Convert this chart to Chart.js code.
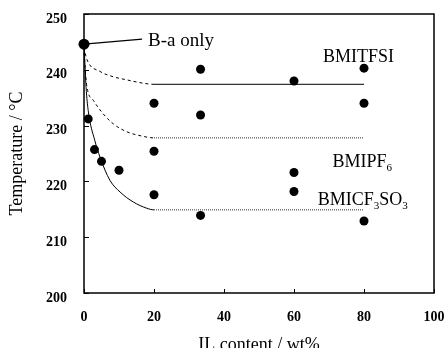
<!DOCTYPE html>
<html>
<head>
<meta charset="utf-8">
<script src="https://cdn.jsdelivr.net/npm/chart.js@4.4.1/dist/chart.umd.min.js"></script>
<style>
  html, body { margin: 0; padding: 0; background: #fff; }
  #wrap { width: 444px; height: 348px; }
</style>
</head>
<body>
<div id="wrap"><canvas id="c" width="444" height="348"></canvas></div>
<script>
// ---- Data ----
const xTicks = [0, 20, 40, 60, 80, 100];
const yTicks = [200, 210, 220, 230, 240, 250];

// B-a only (no ionic liquid)
const baOnlyX = [0];
const baOnlyY = [244.6];

// Measured points
const tfsiX = [20, 33.3, 60, 80];
const tfsiY = [234.0, 240.1, 238.0, 240.3];
const pf6X = [20, 33.3, 60, 80];
const pf6Y = [225.4, 231.9, 221.6, 234.0];
const cf3X = [1.2, 3.0, 5.0, 10.0, 20, 33.3, 60, 80];
const cf3Y = [231.2, 225.7, 223.6, 222.0, 217.6, 213.9, 218.2, 212.9];

// Guide curves
const tfsiCurveX = [0, 0.8, 4.6, 8.4, 12.2, 16, 20, 80];
const tfsiCurveY = [244.0, 241.9, 239.7, 238.75, 238.2, 237.7, 237.4, 237.4];
const pf6CurveX = [0, 0.8, 2.7, 5.5, 8.4, 12.2, 16, 20, 80];
const pf6CurveY = [243.0, 237.1, 234.5, 232.1, 230.3, 228.9, 228.2, 227.8, 227.8];
const cf3CurveX = [0, 0.6, 1.2, 3.1, 4.6, 7.4, 10.3, 14.1, 17.9, 20, 80];
const cf3CurveY = [244.6, 236.8, 232.7, 227.3, 224.3, 220.2, 218.1, 216.3, 215.2, 214.9, 214.9];

// Text labels (anchored in data units)
const seriesLabels = [
  { text: 'BMITFSI', sub: '', after: '', x: 68.3, y: 242.2 },
  { text: 'BMIPF', sub: '6', after: '', x: 71.0, y: 223.4 },
  { text: 'BMICF', sub: '3', after: 'SO', sub2: '3', x: 66.8, y: 216.6 }
];
const baLabel = { text: 'B-a only', x: 18.3, y: 245.2, lineToX: 16.6, lineToY: 245.5 };

// ---- Helpers ----
const zip = (xs, ys) => xs.map((x, i) => ({ x, y: ys[i] }));
const SERIF = '"Liberation Serif", "Times New Roman", serif';

const curveStyle = (earlyDash, lateDash, lateColor) => ({
  borderColor: '#000',
  borderWidth: 1,
  pointRadius: 0,
  showLine: true,
  fill: false,
  cubicInterpolationMode: 'monotone',
  segment: {
    borderDash: c => (c.p0.parsed.x >= 19.9 ? lateDash : earlyDash),
    borderColor: c => (c.p0.parsed.x >= 19.9 ? lateColor : '#000')
  }
});

const pointStyle = r => ({
  showLine: false,
  pointRadius: r,
  pointHoverRadius: r,
  pointBackgroundColor: '#000',
  pointBorderColor: '#000',
  pointBorderWidth: 0
});

const framePlugin = {
  id: 'frame',
  afterDraw(chart) {
    const { ctx, chartArea: a, scales } = chart;
    ctx.save();
    ctx.strokeStyle = '#000';
    ctx.lineWidth = 1.5;
    ctx.strokeRect(a.left, a.top, a.right - a.left, a.bottom - a.top);
    ctx.lineWidth = 1;
    // inward tick marks
    xTicks.forEach(v => {
      const px = Math.round(scales.x.getPixelForValue(v)) + 0.5;
      ctx.beginPath(); ctx.moveTo(px, a.bottom); ctx.lineTo(px, a.bottom - 4); ctx.stroke();
    });
    yTicks.forEach(v => {
      const py = Math.round(scales.y.getPixelForValue(v)) + 0.5;
      ctx.beginPath(); ctx.moveTo(a.left, py); ctx.lineTo(a.left + 5, py); ctx.stroke();
    });

    // labels
    ctx.fillStyle = '#000';
    ctx.textBaseline = 'middle';
    ctx.textAlign = 'left';
    const big = '18px ' + SERIF;
    const small = '11px ' + SERIF;
    seriesLabels.forEach(l => {
      let px = scales.x.getPixelForValue(l.x);
      const py = scales.y.getPixelForValue(l.y);
      ctx.font = big; ctx.fillText(l.text, px, py); px += ctx.measureText(l.text).width;
      if (l.sub) { ctx.font = small; ctx.fillText(l.sub, px, py + 6); px += ctx.measureText(l.sub).width; }
      if (l.after) { ctx.font = big; ctx.fillText(l.after, px, py); px += ctx.measureText(l.after).width; }
      if (l.sub2) { ctx.font = small; ctx.fillText(l.sub2, px, py + 6); }
    });
    // B-a only leader and label
    ctx.font = '19px ' + SERIF;
    ctx.fillText(baLabel.text, scales.x.getPixelForValue(baLabel.x), scales.y.getPixelForValue(baLabel.y));
    ctx.lineWidth = 1.2;
    ctx.beginPath();
    ctx.moveTo(scales.x.getPixelForValue(baOnlyX[0]), scales.y.getPixelForValue(baOnlyY[0]));
    ctx.lineTo(scales.x.getPixelForValue(baLabel.lineToX), scales.y.getPixelForValue(baLabel.lineToY));
    ctx.stroke();
    ctx.restore();
  }
};

new Chart(document.getElementById('c'), {
  type: 'scatter',
  data: {
    datasets: [
      { label: 'BMITFSI fit', data: zip(tfsiCurveX, tfsiCurveY), ...curveStyle([3, 3], [], '#000') },
      { label: 'BMIPF6 fit', data: zip(pf6CurveX, pf6CurveY), ...curveStyle([3, 3], [1, 1], '#333') },
      { label: 'BMICF3SO3 fit', data: zip(cf3CurveX, cf3CurveY), ...curveStyle([], [1, 1], '#333') },
      { label: 'BMITFSI', data: zip(tfsiX, tfsiY), ...pointStyle(4.5) },
      { label: 'BMIPF6', data: zip(pf6X, pf6Y), ...pointStyle(4.5) },
      { label: 'BMICF3SO3', data: zip(cf3X, cf3Y), ...pointStyle(4.5) },
      { label: 'B-a only', data: zip(baOnlyX, baOnlyY), ...pointStyle(5.5) }
    ]
  },
  options: {
    responsive: false,
    animation: false,
    clip: false,
    layout: { padding: { left: 0, right: 10, top: 14, bottom: 0 } },
    plugins: { legend: { display: false }, tooltip: { enabled: false } },
    scales: {
      x: {
        type: 'linear', min: 0, max: 100,
        afterFit: s => { s.height = 55; s.paddingLeft = 0; s.paddingRight = 0; },
        afterBuildTicks: s => { s.ticks = xTicks.map(v => ({ value: v })); },
        grid: { display: false },
        border: { display: false },
        ticks: { padding: 8, color: '#000', font: { family: SERIF, size: 14, weight: 'bold' } },
        title: { display: true, text: 'IL content / wt%', color: '#000', font: { family: SERIF, size: 18 }, padding: { top: 0, bottom: -8 } }
      },
      y: {
        type: 'linear', min: 200, max: 250,
        afterFit: s => { s.width = 84; s.paddingTop = 0; s.paddingBottom = 0; },
        afterBuildTicks: s => { s.ticks = yTicks.map(v => ({ value: v })); },
        grid: { display: false },
        border: { display: false },
        ticks: { padding: 9, labelOffset: 5, color: '#000', font: { family: SERIF, size: 14, weight: 'bold' } },
        title: { display: true, text: 'Temperature / °C', color: '#000', font: { family: SERIF, size: 18 }, padding: { top: 6, bottom: 0 } }
      }
    }
  },
  plugins: [framePlugin]
});
</script>
</body>
</html>
